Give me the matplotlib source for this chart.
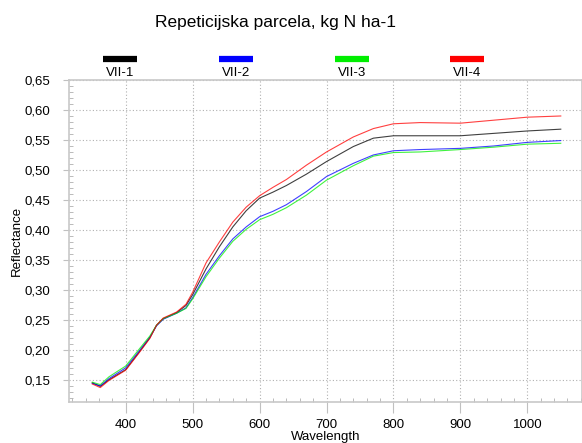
import numpy as np
import matplotlib
matplotlib.use("Agg")
import matplotlib.pyplot as plt
from matplotlib.lines import Line2D
from matplotlib.ticker import FuncFormatter, MultipleLocator

plt.rcParams["font.family"] = ["Liberation Sans", "DejaVu Sans"]

wavelength = [350, 362, 375, 400, 420, 436, 446, 456, 476, 490, 500, 520, 540, 560,
              580, 600, 620, 640, 670, 700, 740, 770, 800, 840, 900, 950, 1000, 1050]

vii_1 = [0.145, 0.139, 0.150, 0.167, 0.196, 0.220, 0.241, 0.252, 0.262, 0.274, 0.292,
         0.335, 0.372, 0.405, 0.432, 0.453, 0.463, 0.474, 0.493, 0.514, 0.539, 0.553,
         0.557, 0.557, 0.557, 0.561, 0.565, 0.568]
vii_2 = [0.144, 0.140, 0.152, 0.170, 0.198, 0.221, 0.240, 0.251, 0.261, 0.270, 0.287,
         0.326, 0.357, 0.385, 0.405, 0.422, 0.431, 0.442, 0.464, 0.489, 0.511, 0.525,
         0.532, 0.534, 0.536, 0.540, 0.546, 0.549]
vii_3 = [0.146, 0.142, 0.155, 0.173, 0.201, 0.223, 0.241, 0.252, 0.261, 0.269, 0.285,
         0.322, 0.353, 0.381, 0.401, 0.417, 0.426, 0.437, 0.458, 0.483, 0.507, 0.523,
         0.529, 0.530, 0.534, 0.538, 0.543, 0.5445]
vii_4 = [0.143, 0.137, 0.149, 0.166, 0.195, 0.219, 0.241, 0.253, 0.263, 0.276, 0.296,
         0.345, 0.380, 0.413, 0.438, 0.457, 0.471, 0.484, 0.508, 0.530, 0.555, 0.569,
         0.577, 0.579, 0.578, 0.583, 0.588, 0.590]

labels = ["VII-1", "VII-2", "VII-3", "VII-4"]
colors = ["#000000", "#0000ff", "#00ee00", "#ff0000"]
series = [vii_1, vii_2, vii_3, vii_4]

fig = plt.figure(figsize=(5.82, 4.43), dpi=100)
ax = fig.add_axes([0.1177, 0.0926, 0.8823, 0.7268])

for vals, c in zip(series, colors):
    ax.plot(wavelength, vals, color=c, lw=0.8, alpha=0.75)

ax.set_xlim(314.5, 1081.7)
ax.set_ylim(0.113, 0.65)
ax.xaxis.set_major_locator(MultipleLocator(100))
ax.xaxis.set_minor_locator(MultipleLocator(20))
ax.yaxis.set_major_locator(MultipleLocator(0.05))
ax.yaxis.set_minor_locator(MultipleLocator(0.01))
ax.yaxis.set_major_formatter(FuncFormatter(lambda v, p: f"{v:.2f}".replace(".", ",")))
ax.xaxis.set_major_formatter(FuncFormatter(lambda v, p: f"{v:.0f}"))

ax.grid(True, which="major", color="#b0b0b0", linestyle=(0, (1, 2)), lw=0.8)
ax.tick_params(axis="both", which="major", direction="out", length=8, color="#c0c0c0",
               labelsize=9.5, pad=4)
ax.tick_params(axis="y", which="major", length=4, pad=9)
ax.tick_params(axis="both", which="minor", direction="in", length=3, color="#b0b0b0")
for s in ax.spines.values():
    s.set_color("#c8c8c8")
    s.set_linewidth(1.2)

ax.set_xlabel("Wavelength", fontsize=9.5, labelpad=0)
ax.set_ylabel("Reflectance", fontsize=9.5, labelpad=1)

fig.text(0.473, 0.95, "Repeticijska parcela, kg N ha-1", ha="center", va="center", fontsize=12.5)

leg_x = [120, 236, 352, 467]
for x, lab, c in zip(leg_x, labels, colors):
    fx = x / 582
    fig.add_artist(Line2D([fx - 17 / 582, fx + 17 / 582], [1 - 59 / 443] * 2, color=c, lw=4.5,
                          solid_capstyle="butt", transform=fig.transFigure))
    fig.text(fx, 1 - 73 / 443, lab, ha="center", va="center", fontsize=9.5)

fig.savefig("out.png", dpi=100)
